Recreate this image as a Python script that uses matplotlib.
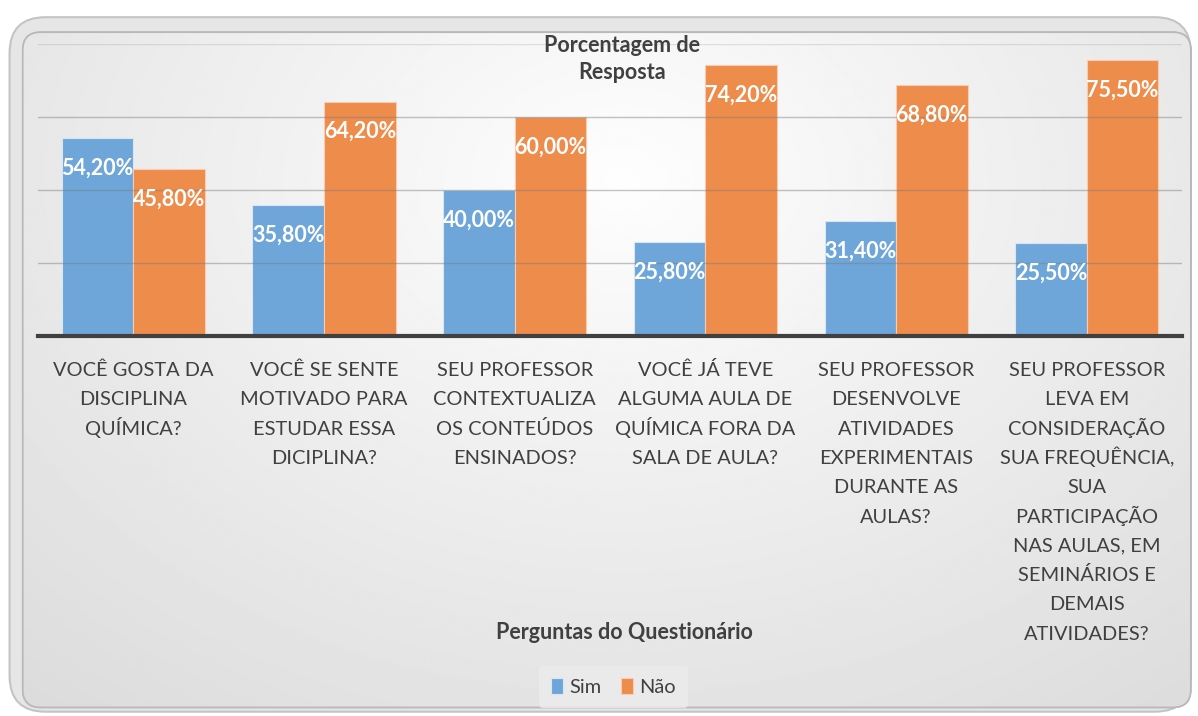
import numpy as np
import matplotlib
matplotlib.use("Agg")
import matplotlib.pyplot as plt
from matplotlib.patches import FancyBboxPatch

plt.rcParams['font.family'] = ['Lato', 'DejaVu Sans']

perguntas = [
    "VOCÊ GOSTA DA\nDISCIPLINA\nQUÍMICA?",
    "VOCÊ SE SENTE\nMOTIVADO PARA\nESTUDAR ESSA\nDICIPLINA?",
    "SEU PROFESSOR\nCONTEXTUALIZA\nOS CONTEÚDOS\nENSINADOS?",
    "VOCÊ JÁ TEVE\nALGUMA AULA DE\nQUÍMICA FORA DA\nSALA DE AULA?",
    "SEU PROFESSOR\nDESENVOLVE\nATIVIDADES\nEXPERIMENTAIS\nDURANTE AS\nAULAS?",
    "SEU PROFESSOR\nLEVA EM\nCONSIDERAÇÃO\nSUA FREQUÊNCIA,\nSUA\nPARTICIPAÇÃO\nNAS AULAS, EM\nSEMINÁRIOS E\nDEMAIS\nATIVIDADES?",
]
sim = [54.2, 35.8, 40.0, 25.8, 31.4, 25.5]
nao = [45.8, 64.2, 60.0, 74.2, 68.8, 75.5]

azul = "#6fa6d9"
laranja = "#ee8c4c"
cinza = "#404040"

fig = plt.figure(figsize=(11.98, 7.16), dpi=100)
fig.patch.set_facecolor("white")

# fundo com degradê e borda arredondada
bg = fig.add_axes([0, 0, 1, 1], zorder=-10)
bg.set_xlim(0, 1)
bg.set_ylim(0, 1)
bg.axis("off")
yy, xx = np.mgrid[0:1:300j, 0:1:500j]
r = np.sqrt(((xx - 0.52) / 0.8) ** 2 + ((yy - 0.75) / 1.0) ** 2)
grad = np.clip(0.995 - 0.14 * r, 0.84, 1)
outer = FancyBboxPatch((0.008, 0.006), 0.986, 0.97, boxstyle="round,pad=0,rounding_size=0.03",
                       transform=bg.transAxes, facecolor="#e6e6e6", edgecolor="#c4c4c4", lw=1.5,
                       mutation_aspect=1.67)
bg.add_patch(outer)
inner = FancyBboxPatch((0.019, 0.012), 0.975, 0.943, boxstyle="round,pad=0,rounding_size=0.015",
                       transform=bg.transAxes, facecolor="none", edgecolor="#bcbcbc", lw=1.2,
                       mutation_aspect=1.67)
bg.add_patch(inner)
im = bg.imshow(grad, cmap="gray", vmin=0, vmax=1, extent=[0, 1, 0, 1], origin="lower",
               aspect="auto", zorder=1)
im.set_clip_path(inner)
bg.add_patch(FancyBboxPatch((0.019, 0.012), 0.975, 0.943, boxstyle="round,pad=0,rounding_size=0.015",
                            transform=bg.transAxes, facecolor="none", edgecolor="#b8b8b8", lw=1.2,
                            mutation_aspect=1.67, zorder=2))

ax = fig.add_axes([0.0317, 0.5307, 0.955, 0.4078])
ax.patch.set_alpha(0)
x = np.arange(len(perguntas))
w = 0.375
b1 = ax.bar(x - w / 2, sim, w, color=azul, edgecolor="#d8e6f4", lw=0.8, label="Sim", zorder=2)
b2 = ax.bar(x + w / 2, nao, w, color=laranja, edgecolor="#f6cdb0", lw=0.8, label="Não", zorder=2)

ax.set_xlim(-0.5, len(perguntas) - 0.5)
ax.set_ylim(0, 80)
ax.set_yticks([20, 40, 60, 80])
ax.yaxis.grid(True, color="#7a7a7a", lw=1.0, alpha=0.45, zorder=3)
ax.get_ygridlines()[-1].set_alpha(0.2)
ax.set_axisbelow(False)
ax.tick_params(axis="y", left=False, labelleft=False)
ax.tick_params(axis="x", bottom=False, labelbottom=False)
for s in ["top", "right", "left"]:
    ax.spines[s].set_visible(False)
ax.spines["bottom"].set_color(cinza)
ax.spines["bottom"].set_linewidth(3)
ax.spines["bottom"].set_zorder(4)
ax.set_xticks(x)

# rótulos das categorias, linha a linha para manter o espaçamento regular
for i, lab in enumerate(perguntas):
    for k, linha in enumerate(lab.split("\n")):
        ax.annotate(linha, xy=(i, 0), xycoords=("data", "axes fraction"),
                    xytext=(0, -40 - 29.3 * k), textcoords="offset pixels",
                    ha="center", va="baseline", fontsize=14.4, color=cinza)

for bars, vals in [(b1, sim), (b2, nao)]:
    for b, v in zip(bars, vals):
        ax.annotate(f"{v:.2f}%".replace(".", ","), (b.get_x() + b.get_width() / 2, v),
                    xytext=(0, -30), textcoords="offset pixels", ha="center", va="center",
                    color="white", fontsize=15.5, fontweight="bold", zorder=5)

fig.text(0.519, 0.917, "Porcentagem de\nResposta", ha="center", va="center", fontsize=15.5,
         fontweight="bold", color=cinza, linespacing=1.35)
fig.text(0.521, 0.116, "Perguntas do Questionário", ha="center", va="center", fontsize=15.5,
         fontweight="bold", color=cinza)

leg = fig.legend(handles=[b1, b2], loc="center", bbox_to_anchor=(0.512, 0.041), ncol=2,
                 frameon=True, fontsize=14.4, handlelength=0.6, handleheight=0.9,
                 handletextpad=0.3, columnspacing=1.0, borderpad=0.6)
leg.get_frame().set_facecolor("#ececec")
leg.get_frame().set_edgecolor("none")
for t in leg.get_texts():
    t.set_color(cinza)

fig.savefig("out.png", dpi=100)
